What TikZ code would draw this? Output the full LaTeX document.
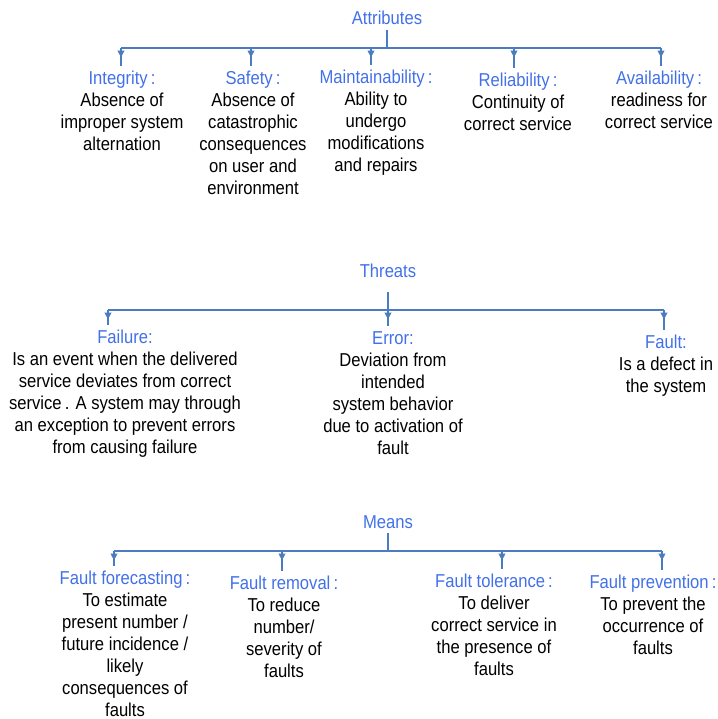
\documentclass[tikz,border=0pt]{standalone}
\usepackage{fontspec}
\setmainfont{Liberation Sans}[FakeStretch=0.89]
\usetikzlibrary{arrows.meta, decorations.markings, positioning}

\definecolor{headblue}{RGB}{66,112,232}
\definecolor{lineblue}{RGB}{74,124,190}

\tikzset{
  head/.style={text=headblue, font=\fontsize{14}{16.5}\selectfont},
  item/.style={anchor=north, align=center, inner sep=2pt, font=\fontsize{14}{16.5}\selectfont},
  link/.style={lineblue, line width=1.1pt},
  branch/.style={link, postaction={decorate},
    decoration={markings, mark=at position 7pt with {\arrow[lineblue]{Triangle[width=5pt,length=5pt]}}}},
}
\newcommand{\lbl}[1]{\strut{\color{headblue}#1}}

\begin{document}
\begin{tikzpicture}[x=0.75pt, y=-0.75pt]
        \useasboundingbox (0,0) rectangle (718,719);

        % attributes
        \node[head] (attr) at (387,18) {Attributes};
        \coordinate (attrbar) at (387,48);
        \foreach \n/\x in {a1/121, a2/251, a3/371, a4/514, a5/661}
            \coordinate (\n) at (\x,48);
        \node[item] (integ) at (122,66) {\lbl{Integrity\,:}\\ Absence of\\ improper system\\ alternation};
        \node[item] (safe) at (253,66) {\lbl{Safety\,:}\\ Absence of\\ catastrophic\\ consequences\\ on user and\\ environment};
        \node[item] (maint) at (376,65) {\lbl{Maintainability\,:}\\ Ability to\\ undergo\\ modifications\\ and repairs};
        \node[item] (relia) at (518,68) {\lbl{Reliability\,:}\\ Continuity of\\ correct service};
        \node[item] (avail) at (659,66) {\lbl{Availability\,:}\\ readiness for\\ correct service};
        \draw[link] (attr) -- (attrbar);
        \draw[link] (a1) -- (a5);
        \draw[branch] (a1) -- (a1 |- integ.north);
        \draw[branch] (a2) -- (a2 |- safe.north);
        \draw[branch] (a3) -- (a3 |- maint.north);
        \draw[branch] (a4) -- (a4 |- relia.north);
        \draw[branch] (a5) -- (a5 |- avail.north);

        % threats
        \node[head] (thr) at (388,271) {Threats};
        \coordinate (t1) at (108,310);
        \coordinate (t2) at (388,310);
        \coordinate (t3) at (664,310);
        \node[item] (fail) at (125,325) {\lbl{Failure:}\\ Is an event when the delivered\\ service deviates from correct\\ service\,. A system may through\\ an exception to prevent errors\\ from causing failure};
        \node[item] (err) at (393,326) {\lbl{Error:}\\ Deviation from\\ intended\\ system behavior\\ due to activation of\\ fault};
        \node[item] (flt) at (666,330) {\lbl{Fault:}\\ Is a defect in\\ the system};
        \draw[link, shorten <=7pt] (thr) -- (t2);
        \draw[link] (t1) -- (t3);
        \draw[branch] (t1) -- (t1 |- fail.north);
        \draw[branch] (t2) -- (t2 |- err.north);
        \draw[branch] (t3) -- (t3 |- flt.north);

        % means
        \node[head] (mns) at (388,522) {Means};
        \coordinate (mnsbar) at (388,551);
        \foreach \n/\x in {m1/114, m2/282, m3/502, m4/662}
            \coordinate (\n) at (\x,551);
        \node[item] (fcast) at (125,566) {\lbl{Fault forecasting\,:}\\ To estimate\\ present number /\\ future incidence /\\ likely\\ consequences of\\ faults};
        \node[item] (frem) at (284,571) {\lbl{Fault removal\,:}\\ To reduce\\ number/\\ severity of\\ faults};
        \node[item] (ftol) at (494,569) {\lbl{Fault tolerance\,:}\\ To deliver\\ correct service in\\ the presence of\\ faults};
        \node[item] (fprev) at (653,570) {\lbl{Fault prevention\,:}\\ To prevent the\\ occurrence of\\ faults};
        \draw[link] (mns) -- (mnsbar);
        \draw[link] (m1) -- (m4);
        \draw[branch] (m1) -- (m1 |- fcast.north);
        \draw[branch] (m2) -- (m2 |- frem.north);
        \draw[branch] (m3) -- (m3 |- ftol.north);
        \draw[branch] (m4) -- (m4 |- fprev.north);
    \end{tikzpicture}
\end{document}
